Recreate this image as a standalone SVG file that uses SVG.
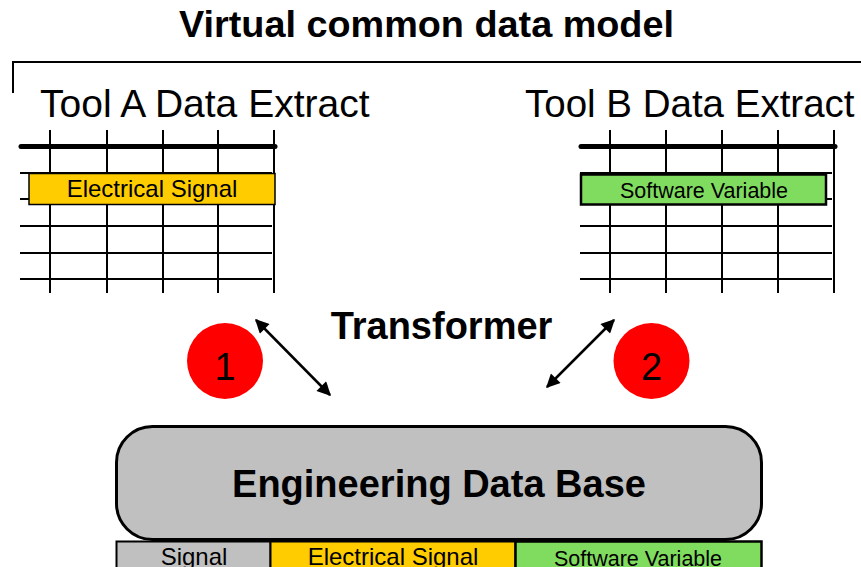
<svg xmlns="http://www.w3.org/2000/svg" width="861" height="567" viewBox="0 0 861 567">
  <style>
    .txt { font-family: "Liberation Sans", Arial, sans-serif; fill: #000; }
    .bold { font-weight: bold; }
    .grid { stroke: #000; stroke-width: 2; fill: none; }
    .rule { stroke: #000; stroke-width: 5; stroke-linecap: round; }
    .yellow { fill: #FFCC00; }
    .green { fill: #80DC5F; }
    .grey { fill: #C0C0C0; }
    .link { stroke: #000; stroke-width: 2.5; fill: none; marker-start: url(#head); marker-end: url(#head); }
    .badge { fill: #FF0000; }
  </style>
  <defs>
    <marker id="head" viewBox="0 0 10 10" refX="9" refY="5" markerWidth="6.5" markerHeight="5.5" orient="auto-start-reverse" markerUnits="strokeWidth">
      <path d="M0,0 L10,5 L0,10 z" fill="#000"/>
    </marker>
  </defs>

  <rect width="861" height="567" fill="#fff"/>

  <!-- heading and bracket -->
  <text class="txt bold" x="426.5" y="37" font-size="37.8" text-anchor="middle">Virtual common data model</text>
  <path d="M13,93 V62 H861" fill="none" stroke="#000" stroke-width="2"/>

  <!-- Tool A extract table -->
  <g id="toolA">
    <text class="txt" x="40" y="117" font-size="39">Tool A Data Extract</text>
    <g class="grid">
      <line x1="50" y1="130" x2="50" y2="293"/>
      <line x1="107" y1="130" x2="107" y2="293"/>
      <line x1="163" y1="130" x2="163" y2="293"/>
      <line x1="218" y1="130" x2="218" y2="293"/>
      <line x1="274" y1="130" x2="274" y2="293"/>
      <line x1="20" y1="173" x2="272" y2="173"/>
      <line x1="20" y1="199" x2="272" y2="199"/>
      <line x1="20" y1="226" x2="272" y2="226"/>
      <line x1="20" y1="253" x2="272" y2="253"/>
      <line x1="20" y1="279" x2="272" y2="279"/>
    </g>
    <line class="rule" x1="21" y1="146.5" x2="275" y2="146.5"/>
    <rect class="yellow" x="29" y="173.5" width="246" height="31" stroke="#000" stroke-width="1.5"/>
    <text class="txt" x="152" y="197" font-size="24" text-anchor="middle">Electrical Signal</text>
  </g>

  <!-- Tool B extract table -->
  <g id="toolB">
    <text class="txt" x="525" y="117" font-size="38.5">Tool B Data Extract</text>
    <g class="grid">
      <line x1="610" y1="130" x2="610" y2="293"/>
      <line x1="666" y1="130" x2="666" y2="293"/>
      <line x1="722" y1="130" x2="722" y2="293"/>
      <line x1="778" y1="130" x2="778" y2="293"/>
      <line x1="834" y1="130" x2="834" y2="293"/>
      <line x1="580" y1="173" x2="832" y2="173"/>
      <line x1="580" y1="199" x2="832" y2="199"/>
      <line x1="580" y1="226" x2="832" y2="226"/>
      <line x1="580" y1="253" x2="832" y2="253"/>
      <line x1="580" y1="279" x2="832" y2="279"/>
    </g>
    <line class="rule" x1="581" y1="146.5" x2="835" y2="146.5"/>
    <rect class="green" x="581" y="174.5" width="245" height="30" stroke="#000" stroke-width="2.5"/>
    <text class="txt" x="704" y="198" font-size="21.5" text-anchor="middle">Software Variable</text>
  </g>

  <!-- transformer label and step badges -->
  <g id="transformer">
    <text class="txt bold" x="441.5" y="339" font-size="38" text-anchor="middle">Transformer</text>
  </g>
  <g id="step1">
    <circle class="badge" cx="225" cy="361" r="38"/>
    <text class="txt" x="225" y="380" font-size="38" text-anchor="middle">1</text>
  </g>
  <g id="step2">
    <circle class="badge" cx="651.5" cy="361" r="38"/>
    <text class="txt" x="651.5" y="380" font-size="38" text-anchor="middle">2</text>
  </g>

  <!-- connectors -->
  <g id="connectors">
    <line class="link" x1="256" y1="320" x2="330" y2="395"/>
    <line class="link" x1="614" y1="320" x2="547" y2="387"/>
  </g>

  <!-- engineering data base with its record row -->
  <g id="database">
    <rect class="grey" x="116.5" y="426.5" width="645" height="113" rx="36" ry="36" stroke="#000" stroke-width="3"/>
    <text class="txt bold" x="439" y="497" font-size="38" text-anchor="middle">Engineering Data Base</text>
  </g>
  <g id="record">
    <rect class="grey" x="116.5" y="541.5" width="154" height="30" stroke="#000" stroke-width="2"/>
    <rect class="yellow" x="270.5" y="541.5" width="245" height="30" stroke="#000" stroke-width="2"/>
    <rect class="green" x="515.5" y="541.5" width="246" height="30" stroke="#000" stroke-width="2.5"/>
    <text class="txt" x="194" y="565" font-size="24" text-anchor="middle">Signal</text>
    <text class="txt" x="393" y="565" font-size="24" text-anchor="middle">Electrical Signal</text>
    <text class="txt" x="638" y="566" font-size="21.5" text-anchor="middle">Software Variable</text>
  </g>
</svg>
